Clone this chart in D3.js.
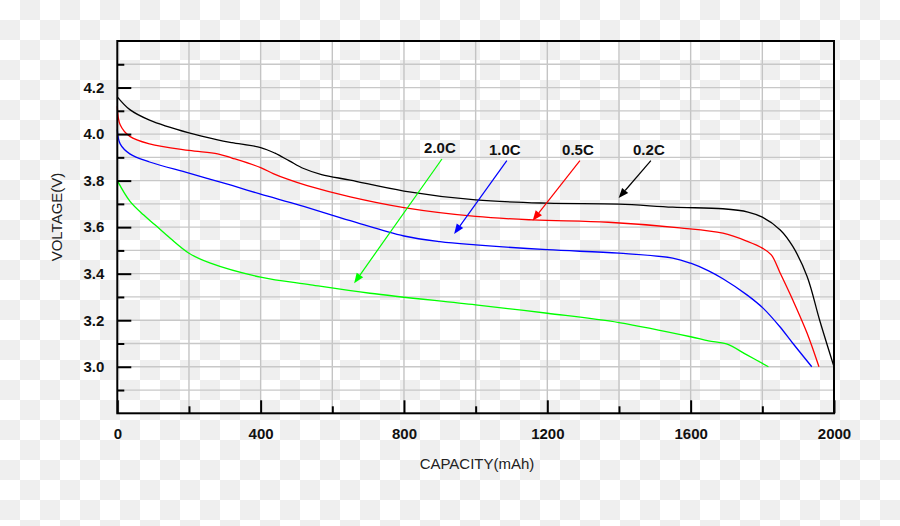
<!DOCTYPE html>
<html><head><meta charset="utf-8">
<script src="https://cdn.jsdelivr.net/npm/d3@7"></script>
<style>body{margin:0;padding:0;background:#fff;} svg{display:block;}</style>
</head><body>
<svg id="chart" width="900" height="526"></svg>
<script>
// ---- data ----
const xTicks = [0, 400, 800, 1200, 1600, 2000];
const yTicks = [3.0, 3.2, 3.4, 3.6, 3.8, 4.0, 4.2];
const seriesNames = ["0.2C", "0.5C", "1.0C", "2.0C"];
const cap02 = [0,35,90,200,280,320,400,440,480,520,570,650,800,1000,1200,1400,1550,1690,1760,1800,1850,1885,1925,1960,2000];
const volt02 = [4.16,4.105,4.06,4.005,3.975,3.963,3.942,3.918,3.885,3.852,3.826,3.802,3.755,3.717,3.703,3.699,3.686,3.679,3.665,3.643,3.588,3.517,3.388,3.20,3.0];
const cap05 = [0,8,35,90,200,280,320,400,435,475,530,650,800,1000,1160,1370,1570,1690,1760,1800,1825,1850,1885,1925,1958];
const volt05 = [4.12,4.04,3.99,3.958,3.93,3.915,3.897,3.856,3.83,3.806,3.778,3.73,3.684,3.646,3.631,3.621,3.597,3.574,3.538,3.51,3.481,3.402,3.287,3.144,3.0];
const cap10 = [0,8,35,90,200,320,400,510,650,800,900,1000,1200,1400,1550,1600,1650,1690,1757,1802,1849,1885,1938];
const volt10 = [4.02,3.958,3.915,3.88,3.832,3.779,3.742,3.694,3.628,3.562,3.538,3.524,3.503,3.488,3.467,3.445,3.412,3.378,3.309,3.252,3.172,3.101,3.0];
const cap20 = [0,35,73,105,147,200,260,400,540,705,1000,1200,1400,1600,1650,1700,1757,1817];
const volt20 = [3.80,3.712,3.653,3.61,3.553,3.488,3.445,3.385,3.352,3.316,3.266,3.23,3.19,3.129,3.111,3.098,3.051,3.0];
// annotation: label anchor (capacity, voltage) and arrow tip (capacity, voltage)
const annoLabels = ["2.0C", "1.0C", "0.5C", "0.2C"];
const annoFromCap = [906, 1087, 1291, 1489];
const annoFromVolt = [3.893, 3.886, 3.886, 3.886];
const annoToCap = [661, 940, 1159, 1399];
const annoToVolt = [3.359, 3.571, 3.628, 3.725];

const colors = {"0.2C":"#000000","0.5C":"#ff0000","1.0C":"#0000ff","2.0C":"#00ff00"};
const series = [
  {name:"0.2C", cap:cap02, volt:volt02},
  {name:"0.5C", cap:cap05, volt:volt05},
  {name:"1.0C", cap:cap10, volt:volt10},
  {name:"2.0C", cap:cap20, volt:volt20}
];

const svg = d3.select("#chart");
const W = 900, H = 526;
const L = 117.3, R = 834, T = 41, B = 413.3;
const FONT = "Liberation Sans, Arial, sans-serif";

// checkerboard background
const defs = svg.append("defs");
const pat = defs.append("pattern").attr("id","checker").attr("width",40).attr("height",40).attr("patternUnits","userSpaceOnUse");
pat.append("rect").attr("width",40).attr("height",40).attr("fill","#ffffff");
pat.append("rect").attr("x",20).attr("y",0).attr("width",20).attr("height",20).attr("fill","#efefef");
pat.append("rect").attr("x",0).attr("y",20).attr("width",20).attr("height",20).attr("fill","#efefef");
svg.append("rect").attr("width",W).attr("height",H).attr("fill","url(#checker)");

const x = d3.scaleLinear().domain([0,2000]).range([L,R]);
const y = d3.scaleLinear().domain([2.8,4.4]).range([B,T]);

// grid
const g = svg.append("g");
g.selectAll(".vg").data(d3.range(200,2000,200)).enter().append("line")
  .attr("x1",d=>x(d)).attr("x2",d=>x(d)).attr("y1",T).attr("y2",B)
  .attr("stroke","#c4c4c4").attr("stroke-width",1.4);
g.selectAll(".hg").data(d3.range(2.9,4.35,0.1)).enter().append("line")
  .attr("x1",L).attr("x2",R).attr("y1",d=>y(d)).attr("y2",d=>y(d))
  .attr("stroke","#c8c8c8").attr("stroke-width",1.3);

// curves
const line = d3.line().x(d=>x(d[0])).y(d=>y(d[1])).curve(d3.curveCatmullRom.alpha(0.5));
series.forEach(s=>{
  const pts = s.cap.map((c,i)=>[c, s.volt[i]]);
  svg.append("path").attr("d", line(pts)).attr("fill","none")
    .attr("stroke", colors[s.name]).attr("stroke-width",1.3);
});

// frame
svg.append("rect").attr("x",L).attr("y",T).attr("width",R-L).attr("height",B-T)
  .attr("fill","none").attr("stroke","#000").attr("stroke-width",2);

// y axis ticks (inward)
const yMinor = d3.range(2.9,4.35,0.1).filter(v=>Math.abs(Math.round(v*5)-v*5)>0.01);
svg.append("g").attr("transform",`translate(${L},0)`)
  .call(d3.axisLeft(y).tickValues(yTicks).tickSize(-14).tickFormat(d3.format(".1f")).tickPadding(13))
  .call(a=>{a.select(".domain").remove(); a.selectAll("line").attr("stroke","#000").attr("stroke-width",2);
    a.selectAll("text").attr("font-family",FONT).attr("font-size",15).attr("font-weight","bold").attr("fill","#111");});
svg.append("g").attr("transform",`translate(${L},0)`)
  .call(d3.axisLeft(y).tickValues(yMinor).tickSize(-7).tickFormat(""))
  .call(a=>{a.select(".domain").remove(); a.selectAll("line").attr("stroke","#000").attr("stroke-width",2);});

// x axis ticks (inward)
svg.append("g").attr("transform",`translate(0,${B})`)
  .call(d3.axisBottom(x).tickValues(xTicks).tickSize(-13).tickFormat(d3.format("d")).tickPadding(15))
  .call(a=>{a.select(".domain").remove(); a.selectAll("line").attr("stroke","#000").attr("stroke-width",2);
    a.selectAll("text").attr("font-family",FONT).attr("font-size",15).attr("font-weight","bold").attr("fill","#111");});
svg.append("g").attr("transform",`translate(0,${B})`)
  .call(d3.axisBottom(x).tickValues(d3.range(200,2000,400)).tickSize(-7).tickFormat(""))
  .call(a=>{a.select(".domain").remove(); a.selectAll("line").attr("stroke","#000").attr("stroke-width",2);});

// axis titles
svg.append("text").attr("x",477).attr("y",469).attr("text-anchor","middle")
  .attr("font-family",FONT).attr("font-size",15).attr("fill","#222")
  .text("CAPACITY(mAh)");
svg.append("text").attr("transform","translate(62,217) rotate(-90)").attr("text-anchor","middle")
  .attr("font-family",FONT).attr("font-size",15).attr("fill","#222")
  .text("VOLTAGE(V)");

// annotations
annoLabels.forEach((lab,i)=>{
  const c = colors[lab];
  const x1 = x(annoFromCap[i]), y1 = y(annoFromVolt[i]);
  const x2 = x(annoToCap[i]), y2 = y(annoToVolt[i]);
  const ang = Math.atan2(y2-y1, x2-x1);
  const hl = 10, hw = 4;
  const bx = x2 - hl*Math.cos(ang), by = y2 - hl*Math.sin(ang);
  svg.append("line").attr("x1",x1).attr("y1",y1).attr("x2",bx).attr("y2",by)
    .attr("stroke",c).attr("stroke-width",1.2);
  const px = -Math.sin(ang), py = Math.cos(ang);
  svg.append("path").attr("d",`M${x2},${y2}L${bx+px*hw},${by+py*hw}L${bx-px*hw},${by-py*hw}Z`).attr("fill",c);
  svg.append("text").attr("x",x1-2).attr("y",y1-6).attr("text-anchor","middle")
    .attr("font-family",FONT).attr("font-size",15).attr("font-weight","bold").attr("fill","#111")
    .text(lab);
});
</script>
</body></html>
